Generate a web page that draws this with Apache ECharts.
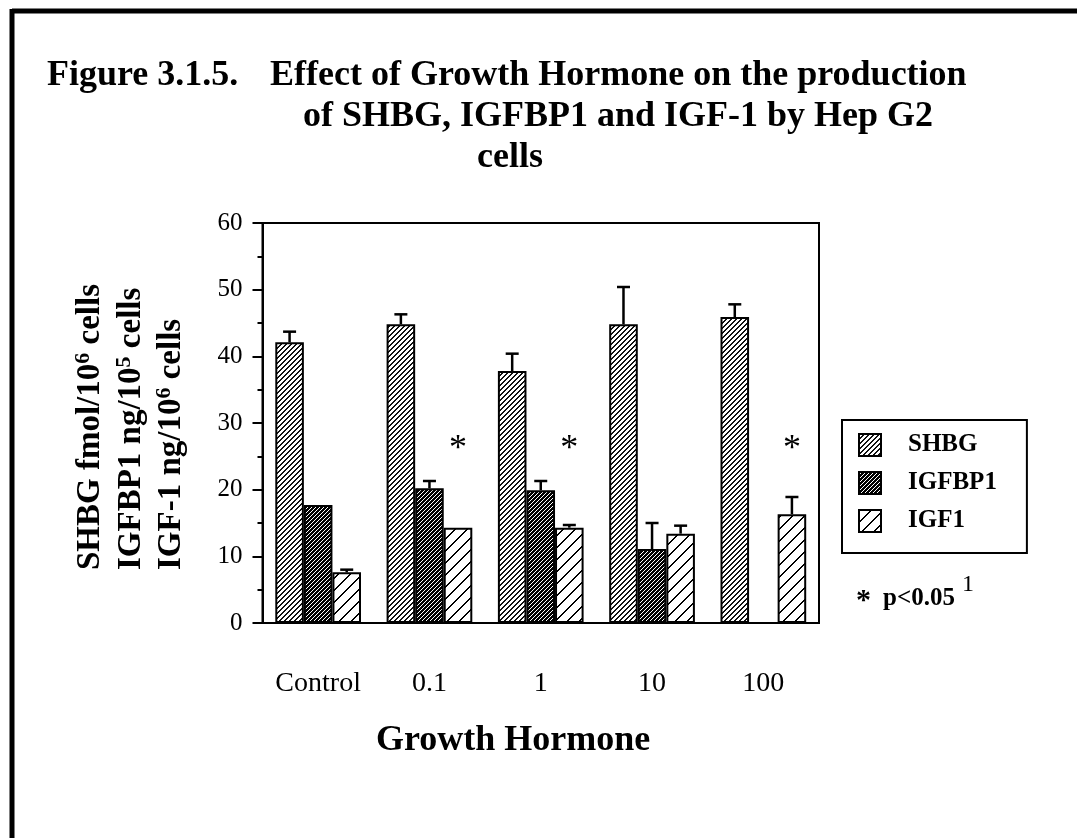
<!DOCTYPE html>
<html>
<head>
<meta charset="utf-8">
<script src="https://cdn.jsdelivr.net/npm/echarts@6/dist/echarts.min.js"></script>
<style>
  html, body { margin: 0; padding: 0; background: #fff; }
  #chart { width: 1077px; height: 838px; }
</style>
</head>
<body>
<div id="chart"></div>
<script>
// values
const categories = ["Control", "0.1", "1", "10", "100"];
const seriesNames = ["SHBG", "IGFBP1", "IGF1"];
const shbg = [42.1, 44.8, 37.8, 44.8, 45.9];
const shbgErr = [1.6, 1.5, 2.6, 5.6, 1.9];
const igfbp1 = [17.7, 20.2, 19.9, 11.1, null];
const igfbp1Err = [0, 1.1, 1.4, 3.9, null];
const igf1 = [7.6, 14.3, 14.3, 13.4, 16.3];
const igf1Err = [0.4, 0, 0.4, 1.2, 2.6];
const igf1Significant = [false, true, true, false, true];
const starLevel = 26;
const yMin = 0, yMax = 60, yStep = 10;

const FONT = '"Liberation Serif", "Times New Roman", serif';
const GROUP_SHARE = 0.77; // bars take 77% of a category (barCategoryGap 23%)

// diagonal "/" hatching as a repeating canvas tile
function hatch(size, thick, ink, paper) {
    const c = document.createElement("canvas");
    c.width = c.height = size;
    const g = c.getContext("2d");
    g.fillStyle = paper;
    g.fillRect(0, 0, size, size);
    g.fillStyle = ink;
    for (let y = 0; y < size; y++) {
        for (let k = 0; k < thick; k++) {
            g.fillRect((size - 1 - y + k) % size, y, 1, 1);
        }
    }
    return { image: c, repeat: "repeat" };
}

const fills = [
    hatch(5, 2, "#111", "#fff"),
    hatch(4, 3, "#000", "#fff"),
    hatch(12, 2, "#000", "#fff")
];
const values = [shbg, igfbp1, igf1];
const errors = [shbgErr, igfbp1Err, igf1Err];

let errData = [];
values.forEach((vals, s) => {
    vals.forEach((v, c) => {
        if (v !== null && errors[s][c]) errData.push([c, v, errors[s][c], s]);
    });
});
let starData = [];
igf1Significant.forEach((sig, c) => {
    if (sig) starData.push([c, starLevel, 2]);
});

function barX(api, cat, val, s) {
    const band = api.size([1, 0])[0];
    const w = band * GROUP_SHARE / 3;
    return api.coord([cat, val])[0] + (s - 1) * w;
}

function renderErr(params, api) {
    const cat = api.value(0), v = api.value(1), e = api.value(2), s = api.value(3);
    const x = barX(api, cat, v, s);
    const y0 = api.coord([cat, v])[1];
    const y1 = api.coord([cat, v + e])[1];
    const st = { stroke: "#000", lineWidth: 2.5 };
    return {
        type: "group",
        children: [
            { type: "line", shape: { x1: x, y1: y0, x2: x, y2: y1 }, style: st },
            { type: "line", shape: { x1: x - 6.5, y1: y1, x2: x + 6.5, y2: y1 }, style: st }
        ]
    };
}

function renderStar(params, api) {
    const cat = api.value(0), v = api.value(1), s = api.value(2);
    const pt = api.coord([cat, v]);
    return {
        type: "text",
        x: barX(api, cat, v, s),
        y: pt[1],
        style: {
            text: "*", font: "36px " + FONT, fill: "#000",
            align: "center", verticalAlign: "middle",
            textAlign: "center", textVerticalAlign: "middle"
        }
    };
}

function txt(x, y, text, size, weight, extra) {
    return Object.assign({
        type: "text", x: x, y: y,
        style: {
            text: text, fill: "#000",
            font: weight + " " + size + "px " + FONT,
            align: "left", verticalAlign: "middle",
            textAlign: "left", textVerticalAlign: "middle"
        }
    }, extra || {});
}

const yRich = {
    b: { fontFamily: FONT, fontSize: 33, fontWeight: "bold", color: "#000", lineHeight: 36 },
    s: { fontFamily: FONT, fontSize: 22, fontWeight: "bold", color: "#000", verticalAlign: "top", lineHeight: 36 }
};
function yLine(x, text) {
    return {
        type: "text", x: x, y: 570, rotation: Math.PI / 2,
        style: {
            text: text, rich: yRich,
            align: "left", verticalAlign: "middle",
            textAlign: "left", textVerticalAlign: "middle"
        }
    };
}

let myChart = echarts.init(document.getElementById("chart"));

let option = {
    backgroundColor: "#fff",
    animation: false,
    grid: {
        left: 262.5, right: 258, top: 223, bottom: 215,
        show: true, borderColor: "#000", borderWidth: 2
    },
    legend: {
        orient: "vertical",
        left: 842, top: 420,
        data: seriesNames,
        icon: "rect",
        itemWidth: 22, itemHeight: 22, itemGap: 8,
        padding: [10, 30, 17, 16],
        borderColor: "#000", borderWidth: 2,
        selectedMode: false,
        textStyle: {
            fontFamily: FONT, fontSize: 25, fontWeight: "bold", color: "#000",
            lineHeight: 30, padding: [0, 0, 0, 22]
        }
    },
    xAxis: {
        type: "category",
        data: categories,
        axisLine: { lineStyle: { color: "#000", width: 2 } },
        axisTick: { length: 7, lineStyle: { color: "#000", width: 2 } },
        axisLabel: { margin: 47, fontFamily: FONT, fontSize: 28, color: "#000" },
        splitLine: { show: false }
    },
    yAxis: {
        type: "value",
        min: yMin, max: yMax, interval: yStep,
        axisLine: { show: true, lineStyle: { color: "#000", width: 2 } },
        axisTick: { show: true, length: 10, lineStyle: { color: "#000", width: 2 } },
        minorTick: { show: true, splitNumber: 2, length: 5, lineStyle: { color: "#000", width: 2 } },
        axisLabel: { margin: 20, fontFamily: FONT, fontSize: 25, color: "#000" },
        splitLine: { show: false }
    },
    series: seriesNames.map((name, s) => ({
        name: name,
        type: "bar",
        data: values[s],
        barGap: "0%",
        barCategoryGap: "23%",
        itemStyle: { color: fills[s], borderColor: "#000", borderWidth: 2 }
    })).concat([
        { type: "custom", renderItem: renderErr, data: errData, z: 5, silent: true },
        { type: "custom", renderItem: renderStar, data: starData, z: 5, silent: true }
    ]),
    graphic: [
        { type: "line", shape: { x1: 12, y1: 11, x2: 1077, y2: 11 }, style: { stroke: "#000", lineWidth: 5 } },
        { type: "line", shape: { x1: 12, y1: 9, x2: 12, y2: 838 }, style: { stroke: "#000", lineWidth: 5 } },
        txt(47, 76, "Figure 3.1.5.", 36, "bold"),
        txt(270, 76, "Effect of Growth Hormone on the production", 36, "bold"),
        txt(303, 117, "of SHBG, IGFBP1 and IGF-1 by Hep G2", 36, "bold"),
        txt(477, 158, "cells", 36, "bold"),
        txt(376, 741, "Growth Hormone", 36, "bold"),
        txt(856, 601, "*", 30, "bold"),
        txt(883, 599, "p<0.05", 25, "bold"),
        txt(962, 585, "1", 24, "normal"),
        yLine(90, "{b|SHBG fmol/10}{s|6}{b| cells}"),
        yLine(131, "{b|IGFBP1 ng/10}{s|5}{b| cells}"),
        yLine(171, "{b|IGF-1 ng/10}{s|6}{b| cells}")
    ]
};

myChart.setOption(option, true);
</script>
</body>
</html>
